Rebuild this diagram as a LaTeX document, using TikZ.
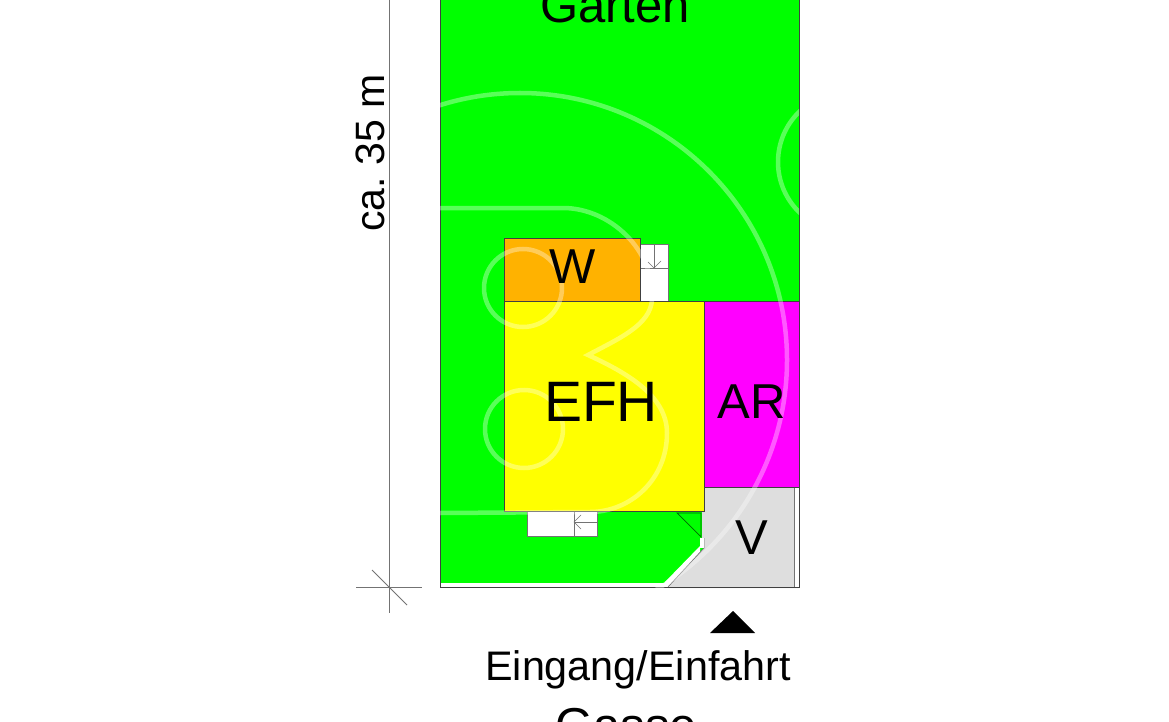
\documentclass[tikz,border=0pt]{standalone}
\usepackage{fontspec}
\setmainfont{Liberation Sans}
\tikzset{>=latex}
\definecolor{lawn}{RGB}{0,255,0}
\definecolor{wood}{RGB}{255,178,0}
\definecolor{house}{RGB}{255,255,0}
\definecolor{annex}{RGB}{255,0,255}
\definecolor{paved}{RGB}{222,222,222}
\tikzset{
	plan/.style={draw=black!75,line width=.7pt},
	thin line/.style={draw=black!55,line width=.7pt},
	mark line/.style={draw=black!55,line width=1pt},
	water/.style={draw=white,opacity=.35,line width=4.5pt},
	label/.style={inner sep=0pt,text=black},
}

\begin{document}
\begin{tikzpicture}[x=1pt,y=-1pt]
	\path[use as bounding box,fill=white] (0,0) rectangle (1169,722);

	\fill[lawn] (440,-5) rectangle (799,583);
	\fill[white] (440,583) -- (664,583) -- (700,546) -- (700,588) -- (440,588) -- cycle;
	\fill[paved] (704,487) -- (799,487) -- (799,588) -- (668,588) -- (704,548) -- (704,538) -- (702,538) -- (702,511) -- (704,511) -- cycle;
	\fill[white] (794,487) rectangle (799,588);
	\draw[plan] (440,-5) -- (440,587) -- (668,587);
	\draw[plan] (799,-5) -- (799,587) -- (668,587);
	\draw[thin line] (668,587) -- (704,548) -- (704,538);
	\draw[thin line] (794,487) -- (794,587);

	% steps
	\fill[white] (640,244) rectangle (668,301);
	\draw[thin line] (640,244) rectangle (668,301);
	\draw[thin line] (640,268) -- (668,268) (654,244) -- (654,268);
	\draw[thin line,line width=.5pt] (648,262) -- (654,268) -- (661,261);
	\fill[white] (527,511) rectangle (597,536);
	\draw[thin line] (527,511) -- (527,536) -- (597,536) -- (597,511);
	\draw[thin line] (574,511) -- (574,536) (574,522) -- (597,522);
	\draw[thin line,line width=.5pt] (581,515) -- (574,522) -- (581,529);

	% buildings
	\filldraw[plan,fill=wood] (504,238) rectangle (640,301);
	\filldraw[plan,fill=house] (504,301) rectangle (704,511);
	\filldraw[plan,fill=annex] (704,301) rectangle (799,487);
	\draw[plan,draw=black!60!lawn] (677,513) -- (701,513) -- (701,537) -- cycle;
	\fill[white] (700,538) rectangle (704,548);

	% dimension
	\draw[mark line] (389,-5) -- (389,613);
	\draw[mark line] (356,587) -- (422,587);
	\draw[mark line] (372,570) -- (407,605);

	% watermark
	\begin{scope}
		\clip (440,0) rectangle (799,587);
		\draw[water] (520,360) circle (267);
		\draw[water] (848,162) circle (70);
	\end{scope}
	\draw[water] (440,208) -- (563,208) .. controls (610,208) and (655,250) .. (652,300) .. controls (650,325) and (620,338) .. (588,355) .. controls (625,372) and (667,395) .. (667,433) .. controls (667,480) and (630,512) .. (590,512) -- (440,513);
	\draw[water] (523,288) circle (39);
	\draw[water] (524,429) circle (39);

	\fill[black] (733,611) -- (755,633) -- (710,633) -- cycle;

	\node[label,font=\fontsize{49}{49}\selectfont] (garten) at (615,6) {Garten};
	\node[label,font=\fontsize{49}{49}\selectfont] (w) at (573,267) {W};
	\node[label,font=\fontsize{57}{57}\selectfont] (efh) at (601,402) {EFH};
	\node[label,font=\fontsize{49}{49}\selectfont] (ar) at (752,402) {AR};
	\node[label,font=\fontsize{49}{49}\selectfont] (v) at (752,538) {V};
	\node[label,font=\fontsize{41.3}{41}\selectfont] (einfahrt) at (638,670) {Eingang/Einfahrt};
	\node[label,font=\fontsize{49}{49}\selectfont] (gasse) at (626,726) {Gasse};
	\node[label,font=\fontsize{41}{41}\selectfont,rotate=90] (laenge) at (370,153) {ca.\ 35 m};
\end{tikzpicture}
\end{document}
